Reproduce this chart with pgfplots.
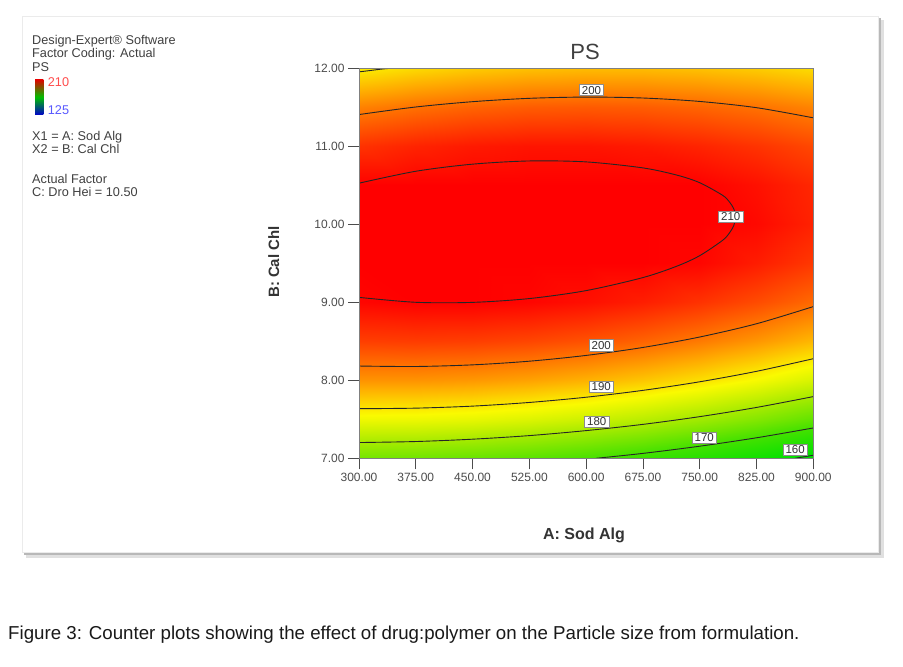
\documentclass[border=0pt]{standalone}
\usepackage{pgfplots}
\pgfplotsset{compat=1.18}
\usepackage{fontspec}
\setmainfont{Liberation Sans}
\tikzset{lbl/.style={fill=white, draw=black!45, line width=0.5pt, inner xsep=2.5pt, inner ysep=1.5pt, font=\fontsize{11.5}{12}\selectfont, text=black!80}}
\pgfplotstableread{
x y f
300 7.0 174.71
375 7.0 174.30
450 7.0 173.44
525 7.0 172.13
600 7.0 170.37
675 7.0 168.17
750 7.0 165.50
825 7.0 162.39
900 7.0 158.82
300 7.5 187.05
375 7.5 186.86
450 7.5 186.22
525 7.5 185.13
600 7.5 183.59
675 7.5 181.60
750 7.5 179.15
825 7.5 176.26
900 7.5 172.91
300 8.0 196.97
375 8.0 197.00
450 8.0 196.58
525 8.0 195.70
600 8.0 194.38
675 8.0 192.61
750 8.0 190.38
825 8.0 187.71
900 8.0 184.58
300 8.5 204.47
375 8.5 204.71
450 8.5 204.51
525 8.5 203.85
600 8.5 202.75
675 8.5 201.19
750 8.5 199.18
825 8.5 196.73
900 8.5 193.82
300 9.0 209.53
375 9.0 210.00
450 9.0 210.01
525 9.0 209.58
600 9.0 208.69
675 9.0 207.35
750 9.0 205.56
825 9.0 203.32
900 9.0 200.63
300 9.5 212.18
375 9.5 212.86
450 9.5 213.09
525 9.5 212.87
600 9.5 212.21
675 9.5 211.09
750 9.5 209.51
825 9.5 207.50
900 9.5 205.02
300 10.0 212.40
375 10.0 213.30
450 10.0 213.75
525 10.0 213.75
600 10.0 213.30
675 10.0 212.40
750 10.0 211.04
825 10.0 209.24
900 10.0 206.98
300 10.5 210.19
375 10.5 211.31
450 10.5 211.98
525 10.5 212.19
600 10.5 211.96
675 10.5 211.28
750 10.5 210.14
825 10.5 208.56
900 10.5 206.52
300 11.0 205.56
375 11.0 206.89
450 11.0 207.78
525 11.0 208.22
600 11.0 208.20
675 11.0 207.74
750 11.0 206.82
825 11.0 205.46
900 11.0 203.64
300 11.5 198.50
375 11.5 200.05
450 11.5 201.16
525 11.5 201.82
600 11.5 202.02
675 11.5 201.78
750 11.5 201.07
825 11.5 199.93
900 11.5 198.33
300 12.0 189.02
375 12.0 190.79
450 12.0 192.11
525 12.0 192.99
600 12.0 193.41
675 12.0 193.39
750 12.0 192.90
825 12.0 191.97
900 12.0 190.59
}\surfdata
\begin{document}
\begin{tikzpicture}[x=1pt,y=1pt]
\path[use as bounding box, fill=white] (0pt,0pt) rectangle (903pt,667pt);
% panel with shadow
\fill[black!12] (26pt,109pt) rectangle (884pt,647pt);
\fill[black!28] (24pt,112pt) rectangle (881pt,649pt);
\fill[white] (22pt,115pt) rectangle (878pt,651pt);
\draw[black!8] (22pt,115pt) rectangle (878pt,651pt);
\begin{axis}[
  at={(359pt,208.7pt)}, anchor=south west,
  width=454.3pt, height=390pt, scale only axis,
  xmin=300, xmax=900, ymin=7, ymax=12,
  axis on top,
  tick align=outside,
  xtick pos=left, ytick pos=left,
  major tick length=11pt,
  xtick={300,375,450,525,600,675,750,825,900},
  xticklabels={300.00,375.00,450.00,525.00,600.00,675.00,750.00,825.00,900.00},
  ytick={7,8,9,10,11,12},
  yticklabels={7.00,8.00,9.00,10.00,11.00,12.00},
  tick style={black!70, line width=0.8pt},
  axis line style={black!50, line width=0.8pt},
  ticklabel style={font=\fontsize{12}{14}\selectfont, text=black!70},
  colormap={psmap}{rgb255(0pt)=(0,0,255); rgb255(25pt)=(0,215,0); rgb255(35pt)=(0,225,0); rgb255(45pt)=(70,225,0); rgb255(55pt)=(170,235,0); rgb255(63pt)=(250,250,0); rgb255(70pt)=(255,170,0); rgb255(77pt)=(255,90,0); rgb255(85pt)=(255,0,0)},
  point meta min=125, point meta max=210,
]
\addplot[surf, shader=interp, mesh/cols=9, point meta=\thisrow{f}] table[x=x, y=y] {\surfdata};
% contour 210
\addplot[smooth, black!85, line width=0.9pt] coordinates {(300,9.063) (375,9.000) (450,8.999) (525,9.048) (600,9.150) (675,9.317) (720,9.464) (750,9.598) (780,9.793) (789,9.886) (795,9.985) (797.4,10.093) (795,10.198) (789,10.290) (780,10.373) (750,10.533) (720,10.630) (675,10.723) (600,10.800) (525,10.812) (450,10.771) (375,10.680) (300,10.527)};
% contour 200 upper
\addplot[smooth, black!85, line width=0.9pt] coordinates {(300,11.407) (375,11.504) (450,11.572) (525,11.615) (600,11.631) (675,11.619) (750,11.575) (825,11.495) (900,11.365)};
% contour 200 lower
\addplot[smooth, black!85, line width=0.9pt] coordinates {(300,8.183) (375,8.177) (450,8.198) (525,8.245) (600,8.319) (675,8.421) (750,8.555) (825,8.725) (900,8.945)};
% contour 190 lower
\addplot[smooth, black!85, line width=0.9pt] coordinates {(300,7.636) (375,7.643) (450,7.669) (525,7.716) (600,7.783) (675,7.871) (750,7.981) (825,8.115) (900,8.277)};
% contour 190 upper corner
\addplot[smooth, black!85, line width=0.9pt] coordinates {(300,11.954) (315,11.972) (330,11.990) (342,12.0)};
% contour 180
\addplot[smooth, black!85, line width=0.9pt] coordinates {(300,7.202) (375,7.215) (450,7.245) (525,7.291) (600,7.355) (675,7.435) (750,7.534) (825,7.652) (900,7.791)};
% contour 170
\addplot[smooth, black!85, line width=0.9pt] coordinates {(613,7.0) (675,7.063) (750,7.155) (825,7.263) (900,7.389)};
% contour 160
\addplot[smooth, black!85, line width=0.9pt] coordinates {(876,7.0) (900,7.039)};
\node[lbl] at (axis cs:607,11.72) {200};
\node[lbl] at (axis cs:791,10.10) {210};
\node[lbl] at (axis cs:620,8.45) {200};
\node[lbl] at (axis cs:620,7.92) {190};
\node[lbl] at (axis cs:614,7.47) {180};
\node[lbl] at (axis cs:756,7.26) {170};
\node[lbl] at (axis cs:876,7.115) {160};
\end{axis}
% title and axis labels
\node[anchor=base, font=\fontsize{22}{26}\selectfont, text=black!75] at (585pt,607pt) {PS};
\node[anchor=base, font=\bfseries\fontsize{16}{19}\selectfont, text=black!80] at (584pt,127pt) {A: Sod Alg};
\node[anchor=base, rotate=90, font=\bfseries\fontsize{15}{18}\selectfont, text=black!80] at (279pt,405pt) {B: Cal Chl};
% info block
\begin{scope}[every node/.style={anchor=base west, inner sep=0pt, font=\fontsize{12.7}{14}\selectfont, text=black!75}]
\node at (32pt,622pt) {Design-Expert® Software};
\node at (32pt,609.5pt) {Factor Coding: Actual};
\node at (32pt,595pt) {PS};
\shade[top color=red!90!black, bottom color=blue!80!black, middle color=green!75!black] (35pt,552pt) rectangle (43.3pt,587.7pt);
\node[text=red!70] at (47.7pt,580pt) {210};
\node[text=blue!65] at (47.7pt,552.3pt) {125};
\node at (32pt,526.3pt) {X1 = A: Sod Alg};
\node at (32pt,513pt) {X2 = B: Cal Chl};
\node at (32pt,483pt) {Actual Factor};
\node at (32pt,470pt) {C: Dro Hei = 10.50};
\end{scope}
% caption
\node[anchor=base west, inner sep=0pt, font=\fontsize{18.7}{22}\selectfont, text=black!90] at (8pt,27pt) {Figure 3: Counter plots showing the effect of drug:polymer on the Particle size from formulation.};
\end{tikzpicture}
\end{document}
